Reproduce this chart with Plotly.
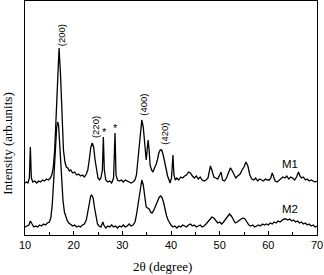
import plotly.graph_objects as go

# ---- data (2theta in degrees, intensity in arbitrary units) ----
m1_x = [10.0, 10.3, 10.6, 10.9, 11.1, 11.3, 11.6, 12.0, 12.4, 12.8, 13.2, 13.6, 14.0, 14.4, 14.8,
        15.2, 15.5, 15.8, 16.1, 16.4, 16.7, 17.0, 17.3, 17.6, 17.9, 18.2, 18.5, 18.8, 19.1, 19.4,
        19.8, 20.2, 20.6, 21.0, 21.4, 21.8, 22.2, 22.6, 22.9, 23.2, 23.5, 23.8, 24.1, 24.4, 24.7,
        25.0, 25.3, 25.6, 25.9, 26.1, 26.3, 26.6, 27.0, 27.4, 27.8, 28.2, 28.5, 28.7, 29.0, 29.4,
        29.8, 30.2, 30.6, 31.0, 31.4, 31.8, 32.2, 32.6, 32.9, 33.2, 33.5, 33.8, 34.0, 34.3, 34.6,
        34.9, 35.1, 35.3, 35.5, 35.7, 36.0, 36.3, 36.6, 36.9, 37.2, 37.5, 37.8, 38.1, 38.4, 38.7,
        39.0, 39.3, 39.6, 39.8, 40.1, 40.4, 40.6, 40.9, 41.2, 41.6, 42.0, 42.4, 42.8, 43.2, 43.6,
        44.0, 44.4, 44.8, 45.2, 45.6, 46.0, 46.4, 46.8, 47.2, 47.6, 47.9, 48.1, 48.4, 48.8, 49.2,
        49.6, 50.0, 50.3, 50.6, 51.0, 51.4, 51.8, 52.2, 52.5, 52.9, 53.3, 53.7, 54.2, 54.6, 55.0,
        55.4, 55.8, 56.2, 56.6, 57.0, 57.4, 57.8, 58.2, 58.6, 59.0, 59.4, 59.8, 60.2, 60.5, 60.8,
        61.1, 61.4, 61.8, 62.2, 62.6, 63.0, 63.4, 63.8, 64.2, 64.6, 65.0, 65.4, 65.8, 66.2, 66.5,
        66.8, 67.2, 67.6, 68.0, 68.4, 68.8, 69.2, 69.6, 70.0]
m1_y = [52, 53, 52, 57, 88, 57, 53, 54, 52, 54, 53, 55, 54, 56, 55,
        57, 60, 67, 85, 125, 165, 187, 160, 115, 85, 73, 68, 67, 64, 65,
        62, 63, 60, 61, 59, 60, 58, 61, 65, 75, 87, 92, 88, 75, 63,
        57, 55, 57, 65, 98, 65, 55, 53, 54, 52, 57, 102, 60, 55, 54,
        55, 53, 55, 54, 53, 52, 53, 55, 60, 75, 95, 110, 115, 108, 90,
        75, 85, 95, 85, 70, 65, 63, 67, 70, 75, 82, 85, 85, 80, 72,
        65, 59, 55, 52, 57, 80, 60, 55, 57, 55, 58, 57, 59, 60, 63,
        62, 59, 57, 59, 56, 58, 55, 54, 55, 57, 63, 69, 65, 58, 57,
        56, 60, 63, 55, 54, 57, 63, 67, 65, 60, 57, 59, 61, 65, 68,
        73, 69, 60, 56, 55, 57, 54, 56, 55, 54, 56, 55, 55, 57, 62,
        57, 54, 53, 55, 57, 58, 57, 59, 56, 58, 57, 55, 58, 63, 59,
        57, 58, 55, 56, 54, 55, 54, 53, 54]

m2_x = [10.0, 10.4, 10.8, 11.1, 11.4, 11.8, 12.2, 12.6, 13.0, 13.4, 13.8, 14.2, 14.6, 15.0, 15.3,
        15.6, 15.9, 16.2, 16.5, 16.7, 16.9, 17.2, 17.5, 17.8, 18.1, 18.4, 18.7, 19.0, 19.4, 19.8,
        20.2, 20.6, 21.0, 21.4, 21.8, 22.2, 22.6, 22.9, 23.2, 23.5, 23.7, 24.0, 24.3, 24.6, 24.9,
        25.2, 25.6, 26.0, 26.2, 26.6, 27.0, 27.4, 27.8, 28.2, 28.6, 29.0, 29.4, 29.8, 30.2, 30.6,
        31.0, 31.4, 31.8, 32.2, 32.6, 32.9, 33.2, 33.5, 33.8, 34.0, 34.3, 34.6, 34.9, 35.2, 35.5,
        35.8, 36.1, 36.4, 36.8, 37.2, 37.6, 37.9, 38.2, 38.5, 38.8, 39.1, 39.4, 39.7, 40.0, 40.4,
        40.8, 41.2, 41.6, 42.0, 42.4, 42.8, 43.2, 43.6, 44.0, 44.4, 44.8, 45.2, 45.6, 46.0, 46.4,
        46.8, 47.2, 47.6, 48.0, 48.4, 48.8, 49.2, 49.6, 50.0, 50.4, 50.8, 51.2, 51.6, 52.0, 52.4,
        52.8, 53.2, 53.6, 54.0, 54.4, 54.8, 55.2, 55.6, 56.0, 56.4, 56.8, 57.2, 57.6, 58.0, 58.4,
        58.8, 59.2, 59.6, 60.0, 60.4, 60.8, 61.2, 61.6, 62.0, 62.4, 62.8, 63.2, 63.6, 64.0, 64.4,
        64.8, 65.2, 65.6, 66.0, 66.4, 66.8, 67.2, 67.6, 68.0, 68.4, 68.8, 69.2, 69.6, 70.0]
m2_y = [8, 9, 10, 14, 11, 8, 9, 8, 10, 9, 11, 10, 12, 13, 17,
        30, 55, 85, 107, 113, 110, 85, 55, 35, 23, 17, 14, 12, 10, 9,
        10, 8, 9, 8, 10, 11, 15, 23, 32, 39, 40, 37, 27, 17, 11,
        9, 8, 13, 10, 7, 9, 8, 10, 8, 9, 7, 9, 8, 10, 8,
        9, 11, 9, 10, 13, 20, 30, 43, 53, 55, 50, 37, 28, 27, 26,
        23, 22, 24, 29, 33, 38, 39, 37, 32, 25, 19, 15, 12, 10, 8,
        9, 7, 9, 8, 10, 9, 8, 10, 11, 9, 10, 8, 9, 10, 8,
        9, 11, 13, 16, 18, 17, 14, 12, 13, 11, 13, 16, 19, 21, 19,
        15, 12, 13, 15, 16, 17, 16, 13, 10, 9, 10, 8, 9, 10, 9,
        11, 10, 11, 10, 12, 11, 13, 12, 14, 13, 15, 16, 16, 15, 16,
        14, 15, 13, 14, 12, 13, 11, 12, 10, 11, 9, 10, 8, 9]

# peak labels: (text, 2theta, intensity)
peak_labels = ["(200)", "(220)", "(400)", "(420)"]
peak_label_x = [17.45, 24.4, 34.2, 38.5]
peak_label_y = [200, 108, 130, 101]
star_x = [26.4, 28.5]
star_y = [103, 107]
series_names = ["M1", "M2"]
series_label_x = [64.4, 64.4]
series_label_y = [71, 26]

x_tickvals = [10, 20, 30, 40, 50, 60, 70]
x_title = "2θ (degree)"
y_title = "Intensity (arb.units)"

fig = go.Figure()
fig.add_trace(go.Scatter(x=m1_x, y=m1_y, mode="lines", name="M1",
                         line=dict(color="black", width=1.3)))
fig.add_trace(go.Scatter(x=m2_x, y=m2_y, mode="lines", name="M2",
                         line=dict(color="black", width=1.3)))

annotations = []
for t, x, y in zip(peak_labels, peak_label_x, peak_label_y):
    annotations.append(dict(x=x, y=y, text=t, showarrow=False, textangle=-90,
                            font=dict(family="Liberation Sans", size=9.5, color="black")))
for x, y in zip(star_x, star_y):
    annotations.append(dict(x=x, y=y, text="*", showarrow=False,
                            font=dict(family="Liberation Sans", size=11, color="black")))
for t, x, y in zip(series_names, series_label_x, series_label_y):
    annotations.append(dict(x=x, y=y, text=t, showarrow=False,
                            font=dict(family="Liberation Sans", size=11.5, color="black")))
# axis titles
annotations.append(dict(xref="paper", yref="paper", x=0.4726, y=-0.135, text=x_title,
                        showarrow=False, xanchor="center", yanchor="middle",
                        font=dict(family="Liberation Serif", size=13, color="black")))
annotations.append(dict(xref="paper", yref="paper", x=-0.058, y=0.39, text=y_title,
                        showarrow=False, xanchor="center", yanchor="middle", textangle=-90,
                        font=dict(family="Liberation Serif", size=13, color="black")))

fig.update_layout(
    width=324, height=275,
    margin=dict(l=25, r=7, t=1, b=40),
    paper_bgcolor="white", plot_bgcolor="white",
    showlegend=False,
    annotations=annotations,
    xaxis=dict(range=[10, 70], tickvals=x_tickvals, ticks="inside", ticklen=4,
               tickcolor="black", tickwidth=1, ticklabeloverflow="allow",
               minor=dict(dtick=5, ticks="inside", ticklen=3, tickcolor="black"),
               showgrid=False, zeroline=False, showline=True, linecolor="black",
               linewidth=1, mirror=True,
               tickfont=dict(family="Liberation Sans", size=11, color="black")),
    yaxis=dict(range=[0, 234], showticklabels=False, ticks="", showgrid=False,
               zeroline=False, showline=True, linecolor="black", linewidth=1, mirror=True),
)

fig.write_html("out.html", config={"displayModeBar": False},
               post_script="document.body.style.margin='0';")
